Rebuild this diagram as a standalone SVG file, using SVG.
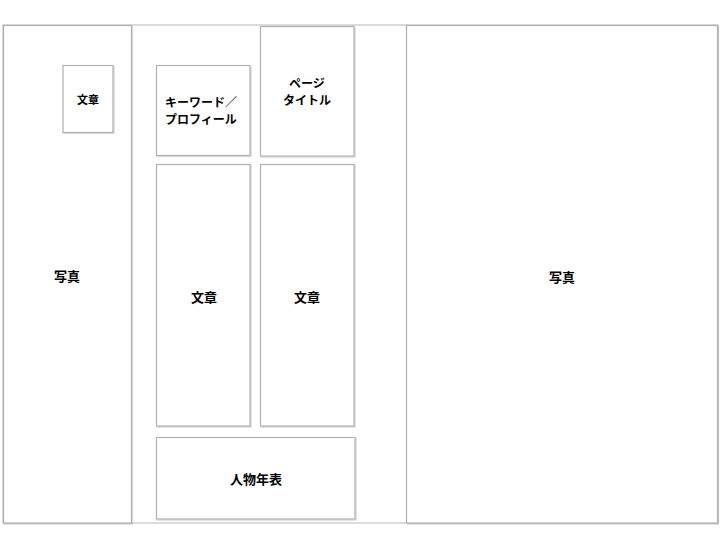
<svg xmlns="http://www.w3.org/2000/svg" width="720" height="540" viewBox="0 0 720 540">
<style>
.box{fill:#ffffff;stroke:#b0b0b0;stroke-width:1.2;filter:url(#sh)}
.frame{fill:none;stroke:#d0d0d0;stroke-width:1.5}
.t{font-family:"Noto Sans CJK JP","Noto Sans",sans-serif;font-weight:bold;fill:#000;text-anchor:middle;dominant-baseline:central}
</style>
<defs>
<filter id="sh" x="-5%" y="-5%" width="110%" height="110%">
<feDropShadow dx="1" dy="1" stdDeviation="0.6" flood-color="#000" flood-opacity="0.18"/>
</filter>
</defs>
<rect x="0" y="0" width="720" height="540" fill="#ffffff"/>
<g id="frame"><rect class="frame" x="3" y="25" width="715" height="498"/></g>
<g id="photo-left"><rect class="box" x="3.5" y="25.5" width="128" height="497.5"/><text class="t" x="67" y="275" font-size="13">写真</text></g>
<g id="text-small"><rect class="box" x="63" y="65.5" width="50" height="67"/><text class="t" x="88" y="99" font-size="11">文章</text></g>
<g id="keyword"><rect class="box" x="156.5" y="65.5" width="93.5" height="90"/><text class="t" x="201" y="101" font-size="12">キーワード／</text><text class="t" x="201" y="118" font-size="12">プロフィール</text></g>
<g id="page-title"><rect class="box" x="260.5" y="26.5" width="93.5" height="129.5"/><text class="t" x="307" y="82" font-size="12">ページ</text><text class="t" x="307" y="99" font-size="12">タイトル</text></g>
<g id="text-left"><rect class="box" x="156.5" y="164.5" width="93.5" height="261.5"/><text class="t" x="204" y="296" font-size="13">文章</text></g>
<g id="text-right"><rect class="box" x="260.5" y="164.5" width="93.5" height="261.5"/><text class="t" x="307" y="296" font-size="13">文章</text></g>
<g id="timeline"><rect class="box" x="156.5" y="437.5" width="198.5" height="81.5"/><text class="t" x="256" y="478" font-size="13">人物年表</text></g>
<g id="photo-right"><rect class="box" x="406.5" y="25.5" width="311" height="497.5"/><text class="t" x="562" y="276" font-size="13">写真</text></g>
<g id="connectors"></g>
</svg>
